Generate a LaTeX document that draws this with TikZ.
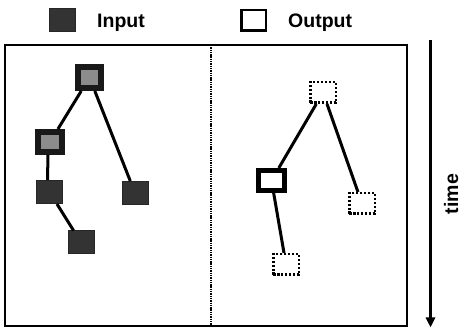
\documentclass[tikz,border=0pt]{standalone}
\usepackage{fontspec}
\setmainfont{Liberation Sans}
\usetikzlibrary{arrows.meta}
\begin{document}
\begin{tikzpicture}[x=1pt,y=-1pt,
  lbl/.style={font=\fontsize{19.5}{22}\selectfont\bfseries, inner sep=0pt},
  rootin/.style={draw=black!90, fill=black!45, line width=6pt, inner sep=0pt,
    minimum width=23pt, minimum height=21pt},
  leafin/.style={draw=black!85, fill=black!80, line width=1pt, inner sep=0pt,
    minimum width=26pt, minimum height=23pt},
  dotout/.style={draw, line width=2.5pt, dash pattern=on 2.4pt off 1.5pt, fill=white,
    inner sep=0pt, minimum width=25.5pt, minimum height=20.5pt},
  thickout/.style={draw, line width=5pt, fill=white, inner sep=0pt,
    minimum width=26pt, minimum height=20pt},
  link/.style={line width=3pt}]
\useasboundingbox (0,0) rectangle (461,328);

% legend
\node[leafin, minimum width=26pt, minimum height=23pt] (keyin) at (62.5,20) {};
\node[lbl, anchor=base west] (keyintxt) at (97,28) {Input};
\node[draw, line width=2.5pt, inner sep=0pt, minimum width=24.5pt, minimum height=20.5pt] (keyout) at (253.5,20.5) {};
\node[lbl, anchor=base west] (keyouttxt) at (288,28) {Output};

% frame and divider
\draw[line width=2pt] (5,45) rectangle (407,326);
\coordinate (divtop) at (211,45);
\coordinate (divbot) at (211,326);
\draw[line width=1.8pt, dash pattern=on 1.4pt off 0.9pt] (divtop) -- (divbot);

% time axis
\coordinate (tstart) at (430.5,40);
\coordinate (tend) at (430.5,327.5);
\draw[line width=2.5pt, -{Triangle[length=10pt,width=9pt]}] (tstart) -- (tend);
\node[lbl, rotate=90, anchor=base] (timetxt) at (458,194) {time};

% input tree
\node[rootin] (a) at (89.5,77.5) {};
\node[rootin, minimum width=24pt, minimum height=20pt] (b) at (50,142) {};
\node[leafin] (c) at (49.5,192) {};
\node[leafin] (d) at (135,193) {};
\node[leafin] (e) at (81,242.5) {};
\draw[link] (a) -- (b);
\draw[link] (a) -- (d);
\draw[link] ([xshift=-2pt]b.south) -- ([xshift=-2pt]c.north);
\draw[link] (c) -- (e);

% output tree
\node[dotout] (p) at (323,92.5) {};
\node[thickout] (q) at (271.5,180.5) {};
\node[dotout] (r) at (362,203.5) {};
\node[dotout] (s) at (286,264.5) {};
\draw[link] (p) -- (q);
\draw[link] (p) -- (r);
\draw[link] (q) -- (s);
\end{tikzpicture}
\end{document}
